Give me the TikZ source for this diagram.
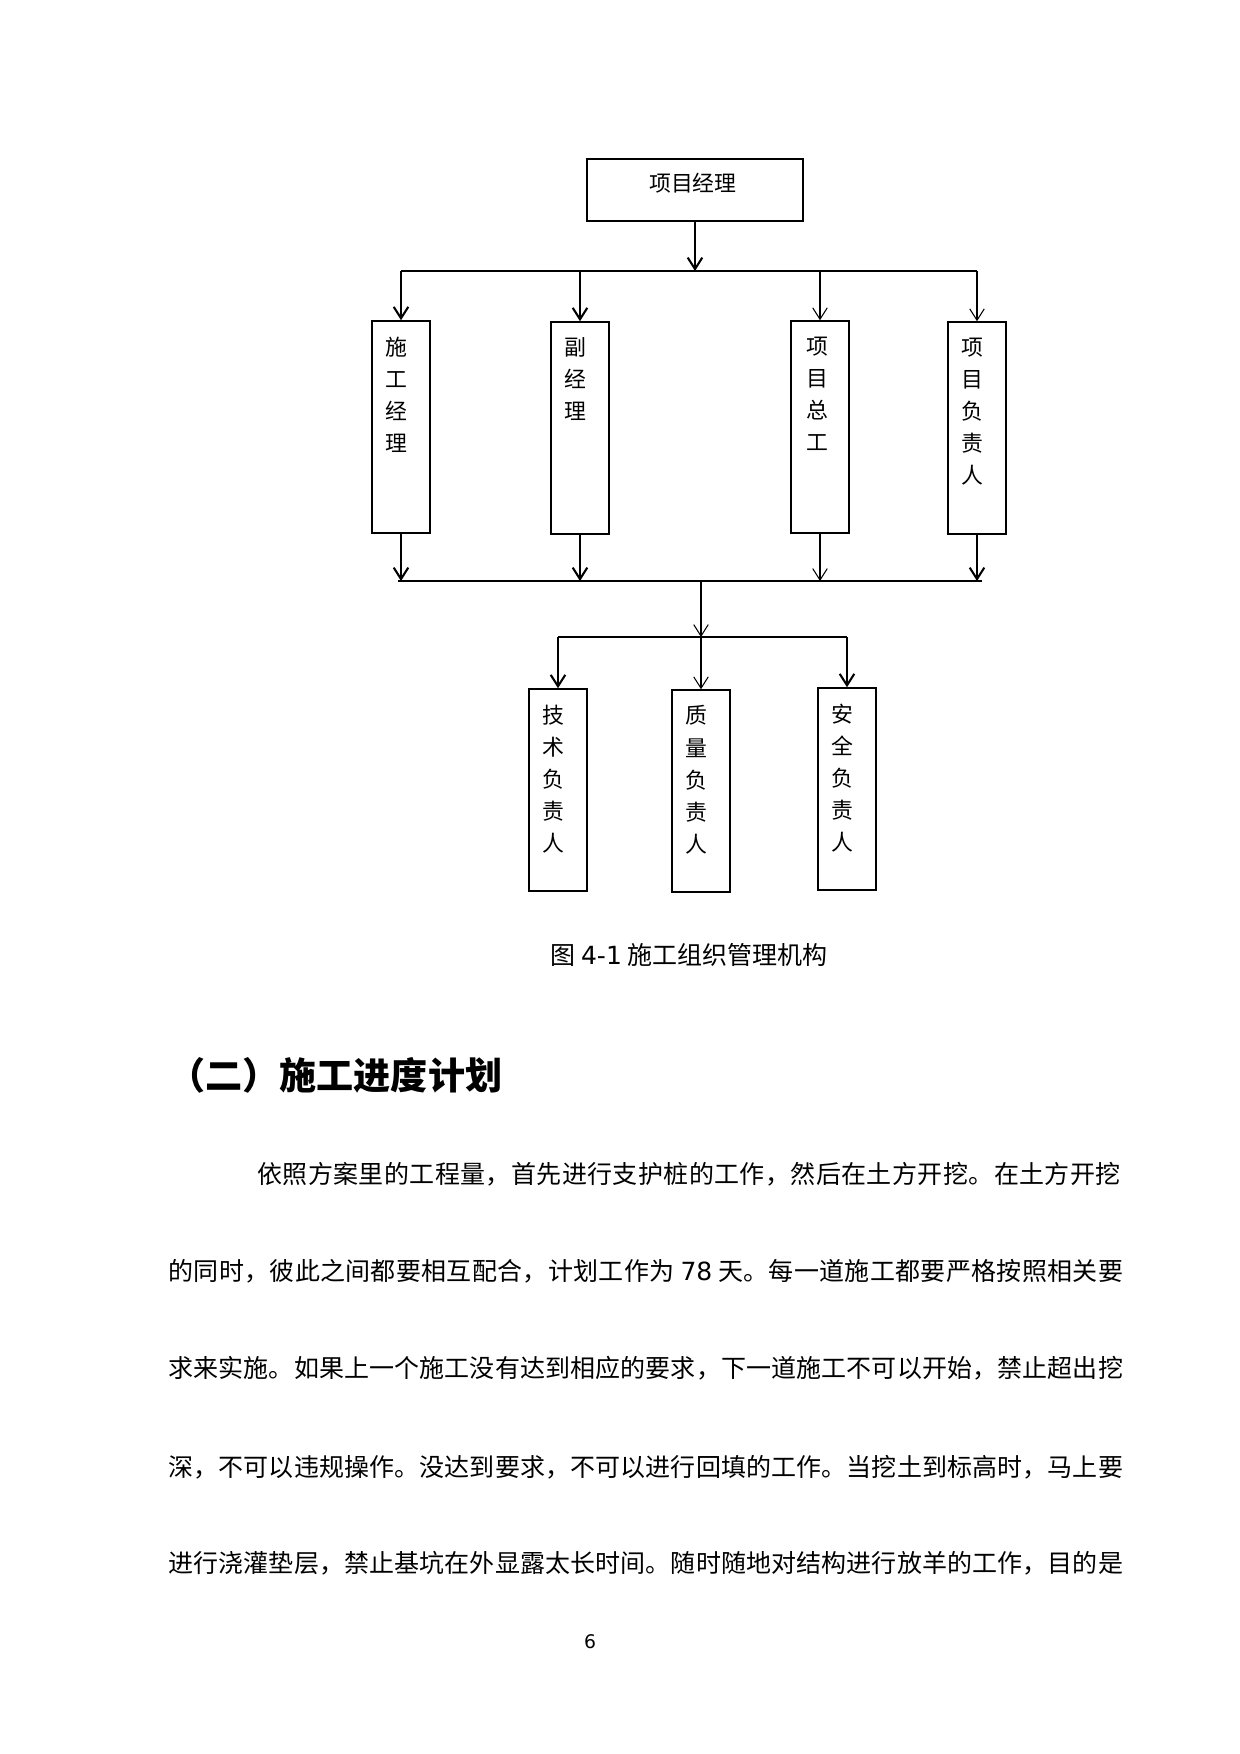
\documentclass[tikz,border=0pt]{standalone}
\usepackage{fontspec}
\setmainfont{DejaVu Sans}
\newfontfamily\cjk{Noto Sans CJK SC}
\usetikzlibrary{arrows.meta}
\newcommand{\latn}[1]{{\rmfamily #1}}

\begin{document}
\begin{tikzpicture}[x=0.48pt,y=-0.48pt,
  box/.style={draw,line width=0.7pt,inner sep=0pt,minimum width=27.8pt},
  upper/.style={box,minimum height=101.8pt},
  lower/.style={box,minimum height=97pt},
  word/.style={font=\cjk\fontsize{10.5}{15.4}\selectfont,align=center,inner sep=0pt,anchor=north},
  link/.style={line width=0.5pt},
  heavy/.style={line width=1pt},
  arr/.style={-{Straight Barb[length=5.5pt,width=7pt]}},
  textline/.style={font=\cjk\fontsize{12}{14}\selectfont,inner sep=0pt,anchor=west}]

\useasboundingbox (0,0) rectangle (1240,1754);

% top box
\node[box,minimum width=103.7pt,minimum height=29.8pt] (pm) at (695,190) {};
\node[font=\cjk\fontsize{10.5}{12}\selectfont,inner sep=0pt] (pmw) at ([xshift=-1pt,yshift=3.2pt]pm.center) {项目经理};

% second row
\node[upper] (sg) at (401,427) {};
\node[upper] (fj) at (580,428) {};
\node[upper] (zg) at (820,427) {};
\node[upper] (fz) at (977,428) {};

\node[word] (sgw) at ([xshift=-2pt,yshift=-7.7pt]sg.north) {施\\工\\经\\理};
\node[word] (fjw) at ([xshift=-2pt,yshift=-7.7pt]fj.north) {副\\经\\理};
\node[word] (zgw) at ([xshift=-1pt,yshift=-7.7pt]zg.north) {项\\目\\总\\工};
\node[word] (fzw) at ([xshift=-2pt,yshift=-7.7pt]fz.north) {项\\目\\负\\责\\人};

% third row
\node[lower] (js) at (558,790) {};
\node[lower] (zl) at (701,791) {};
\node[lower] (aq) at (847,789) {};

\node[word] (jsw) at ([xshift=-2pt,yshift=-7.7pt]js.north) {技\\术\\负\\责\\人};
\node[word] (zlw) at ([xshift=-2pt,yshift=-7.7pt]zl.north) {质\\量\\负\\责\\人};
\node[word] (aqw) at ([xshift=-2pt,yshift=-7.7pt]aq.north) {安\\全\\负\\责\\人};

% bus lines
\coordinate (t1) at (699,271);
\coordinate (t2l) at (398,581);
\coordinate (t2r) at (982,581);
\coordinate (t2) at (701,581);
\coordinate (t3) at (701,637);

\draw[heavy,arr] (pm.south) -- (pm.south |- t1);
\draw[link] (sg.north |- t1) -- (fz.north |- t1);
\draw[heavy,arr] (sg.north |- t1) -- (sg.north);
\draw[heavy,arr] (fj.north |- t1) -- (fj.north);
\draw[link,arr] (zg.north |- t1) -- (zg.north);
\draw[link,arr] (fz.north |- t1) -- (fz.north);

\draw[heavy,arr] (sg.south) -- (sg.south |- t2l);
\draw[heavy,arr] (fj.south) -- (fj.south |- t2l);
\draw[link,arr] (zg.south) -- (zg.south |- t2l);
\draw[heavy,arr] (fz.south) -- (fz.south |- t2l);
\draw[heavy] (t2l) -- (t2r);

\draw[link,arr] (t2) -- (t3);
\draw[link] (js.north |- t3) -- (aq.north |- t3);
\draw[heavy,arr] (js.north |- t3) -- (js.north);
\draw[link,arr] (zl.north |- t3) -- (zl.north);
\draw[heavy,arr] (aq.north |- t3) -- (aq.north);

% caption and text
\node[font=\cjk\fontsize{12}{14}\selectfont,inner sep=0pt] (cap) at (689,955) {图 \latn{4-1} 施工组织管理机构};

\node[font=\cjk\bfseries\fontsize{17.8}{20}\selectfont,inner sep=0pt,anchor=west] (head) at (168,1075) {（二）施工进度计划};

\node[textline] (p1) at (257,1174) {\addfontfeature{LetterSpace=1.6}依照方案里的工程量，首先进行支护桩的工作，然后在土方开挖。在土方开挖};
\node[textline] (p2) at (168,1271) {\addfontfeature{LetterSpace=1.3}的同时，彼此之间都要相互配合，计划工作为 \latn{78} 天。每一道施工都要严格按照相关要};
\node[textline] (p3) at (168,1368) {\addfontfeature{LetterSpace=0.5}求来实施。如果上一个施工没有达到相应的要求，下一道施工不可以开始，禁止超出挖};
\node[textline] (p4) at (168,1467) {\addfontfeature{LetterSpace=0.5}深，不可以违规操作。没达到要求，不可以进行回填的工作。当挖土到标高时，马上要};
\node[textline] (p5) at (168,1563) {\addfontfeature{LetterSpace=0.5}进行浇灌垫层，禁止基坑在外显露太长时间。随时随地对结构进行放羊的工作，目的是};

\node[font=\rmfamily\fontsize{9}{11}\selectfont,inner sep=0pt] (pg) at (590,1642) {6};

\end{tikzpicture}
\end{document}
